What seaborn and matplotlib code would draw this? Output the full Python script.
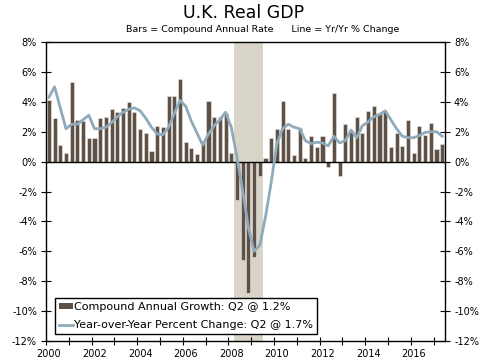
import numpy as np
import pandas as pd
import matplotlib
matplotlib.use("Agg")
import matplotlib.pyplot as plt
import seaborn as sns
from matplotlib.patches import Patch
from matplotlib.lines import Line2D

# data: quarterly, 2000Q1 - 2017Q2
quarters = pd.period_range("2000Q1", "2017Q2", freq="Q")
annual_rate = [4.1, 2.9, 1.1, 0.56, 5.3, 2.75, 2.7, 1.6, 1.6, 2.9, 3.0, 3.5, 3.3, 3.6, 4.0, 3.3, 2.2, 1.9,
               0.74, 2.4, 2.3, 4.4, 4.4, 5.5, 1.3, 0.9, 0.5, 1.4, 4.05, 3.0, 3.0, 3.25, 0.56,
               -2.6, -6.6, -8.8, -6.4, -0.94,
               0.25, 1.6, 2.15, 4.05, 2.2, 0.42, 2.25, 0.22, 1.68, 0.96, 1.72, -0.38, 4.6, -0.94,
               2.5, 2.1, 3.0, 1.9, 3.4, 3.7, 3.25, 3.4, 0.96, 1.9, 1.05, 2.75, 0.58, 2.4, 1.8, 2.6, 0.83, 1.2]
yoy_change = [4.3, 5.0, 3.6, 2.2, 2.5, 2.5, 2.8, 3.1, 2.2, 2.2, 2.3, 2.6, 3.0, 3.3, 3.5, 3.6,
              3.4, 2.9, 2.3, 1.85, 1.8, 2.3, 3.2, 4.1, 3.7, 2.7, 1.9, 1.1, 1.85, 2.4, 2.8, 3.3, 2.3,
              0.3, -1.95, -4.4, -6.0, -5.6, -3.7, -1.4, 1.2, 2.2, 2.5, 2.3, 2.2, 1.4, 1.2, 1.3, 1.25,
              1.05, 1.7, 1.25, 1.4, 2.1, 1.6, 2.4, 2.65, 3.0, 3.15, 3.4, 2.8, 2.2, 1.7, 1.6, 1.6,
              1.75, 1.95, 2.0, 2.0, 1.7]
recession = ("2008Q2", "2009Q2")
year_ticks = list(range(2000, 2018))
year_labels = [str(y) if y % 2 == 0 else "" for y in year_ticks]
y_ticks = list(range(-12, 9, 2))

bar_color = "#5d5148"
line_color = "#8eaabb"
shade_color = "#d9d4c8"

df = pd.DataFrame({
    "x": quarters.year + (quarters.quarter - 1) * 0.25 + 0.125,
    "bars": annual_rate,
    "line": yoy_change,
})

fig = plt.figure(figsize=(4.86, 3.63), dpi=100)
ax = fig.add_axes([0.0947, 0.0606, 0.821, 0.8237])

# recession shading
r0 = pd.Period(recession[0], freq="Q")
r1 = pd.Period(recession[1], freq="Q")
ax.axvspan(r0.year + (r0.quarter - 1) * 0.25, r1.year + r1.quarter * 0.25,
           color=shade_color, lw=0, zorder=0)

sns.barplot(data=df, x="x", y="bars", native_scale=True, width=0.72, color=bar_color,
            saturation=1, edgecolor="#eee8e2", linewidth=0.4, ax=ax, zorder=2)
ax.axhline(0, color="black", lw=1, zorder=3)
sns.lineplot(data=df, x="x", y="line", color=line_color, lw=2.0, ax=ax, zorder=4)

ax.set_xlim(2000, 2017.5)
ax.set_ylim(-12, 8)
ax.set_xlabel("")
ax.set_ylabel("")

ax.set_xticks(year_ticks, minor=True)
ax.set_xticks([y + 0.125 for y in year_ticks])
ax.set_xticklabels(year_labels)
ax.tick_params(axis="x", which="major", length=0, labelsize=7, pad=6)
ax.tick_params(axis="x", which="minor", direction="inout", length=6, width=0.8)
ax.set_yticks(y_ticks)
ax.set_yticklabels([f"{v}%" for v in y_ticks])
ax.tick_params(axis="y", direction="inout", length=7, width=0.8, labelsize=7,
               right=True, labelright=True, pad=3)
for s in ax.spines.values():
    s.set_color("black")
    s.set_linewidth(1)

handles = [Patch(facecolor=bar_color, edgecolor="none"),
           Line2D([0], [0], color=line_color, lw=2.0)]
labels = ["Compound Annual Growth: Q2 @ 1.2%",
          "Year-over-Year Percent Change: Q2 @ 1.7%"]
leg = ax.legend(handles, labels, loc="lower left", bbox_to_anchor=(0.022, 0.023),
                fontsize=8, frameon=True, fancybox=False, handlelength=1.3,
                handleheight=0.55, handletextpad=0.1, borderpad=0.35, labelspacing=0.75,
                borderaxespad=0)
leg.get_frame().set_edgecolor("black")
leg.get_frame().set_linewidth(1)
leg.get_frame().set_alpha(1)

fig.text(0.502, 0.963, "U.K. Real GDP", ha="center", va="center", fontsize=12.5)
fig.text(0.541, 0.918, "Bars = Compound Annual Rate      Line = Yr/Yr % Change",
         ha="center", va="center", fontsize=6.8)

fig.savefig("out.png", dpi=100)
